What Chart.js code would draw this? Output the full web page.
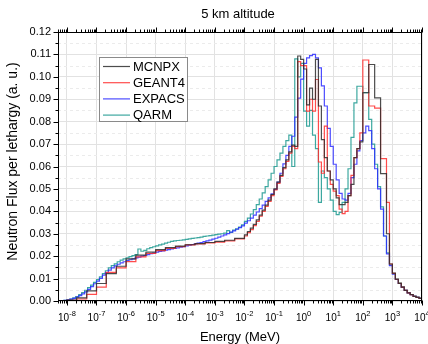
<!DOCTYPE html>
<html><head><meta charset="utf-8">
<script src="https://cdn.jsdelivr.net/npm/chart.js@4.4.1/dist/chart.umd.min.js"></script>
<style>html,body{margin:0;padding:0;background:#fff;}canvas{display:block;}</style>
</head><body>
<canvas id="c" width="428" height="344"></canvas>
<script>
const TITLE = '5 km altitude';
const X_TITLE = 'Energy (MeV)';
const Y_TITLE = 'Neutron Flux per lethargy (a. u.)';
const SERIES_NAMES = ['MCNPX', 'GEANT4', 'EXPACS', 'QARM'];
const X_MIN = 5e-9, X_MAX = 1e4;
const X_TICK_EXP = [-8, -7, -6, -5, -4, -3, -2, -1, 0, 1, 2, 3, 4];
const Y_TICKS = [0, 0.01, 0.02, 0.03, 0.04, 0.05, 0.06, 0.07, 0.08, 0.09, 0.10, 0.11, 0.12];
const Y_TICK_LABELS = ['0.00','0.01','0.02','0.03','0.04','0.05','0.06','0.07','0.08','0.09','0.10','0.11','0.12'];

// bin lower edges, log10(E / MeV)
const LOGE_COARSE_LOW = [-8.3,-8.0,-7.67,-7.33,-7.0,-6.67,-6.33,-6.0,-5.67,-5.33,-5.0,-4.67,-4.33,-4.0,-3.67,-3.33,-3.0,-2.67,-2.33];
const LOGE_FINE_LOW = [-8.3,-8.2,-8.1,-8.0,-7.9,-7.8,-7.7,-7.6,-7.5,-7.4,-7.3,-7.2,-7.1,-7.0,-6.9,-6.8,-6.7,-6.6,-6.5,-6.4,-6.3,-6.2,-6.1,-6.0,-5.9,-5.8,-5.7,-5.6,-5.5,-5.4,-5.3,-5.2,-5.1,-5.0,-4.9,-4.8,-4.7,-4.6,-4.5,-4.4,-4.3,-4.2,-4.1,-4.0,-3.9,-3.8,-3.7,-3.6,-3.5,-3.4,-3.3,-3.2,-3.1,-3.0,-2.9,-2.8,-2.7,-2.6,-2.5,-2.4,-2.3,-2.2,-2.1];
const LOGE_HIGH = [-2.0,-1.9,-1.8,-1.7,-1.6,-1.5,-1.4,-1.3,-1.2,-1.1,-1.0,-0.9,-0.8,-0.7,-0.6,-0.5,-0.4,-0.3,-0.2,-0.1,0.0,0.1,0.2,0.3,0.4,0.5,0.6,0.7,0.8,0.9,1.0,1.1,1.2,1.3,1.4,1.5,1.6,1.7,1.8,1.9,2.0,2.1,2.2,2.3,2.4,2.5,2.6,2.7,2.8,2.9,3.0,3.1,3.2,3.3,3.4,3.5,3.6,3.7,3.8,3.9];
const LOGE_END = 4.0;

const MCNPX_LOW = [0.0001,0.0004,0.0014,0.0045,0.0078,0.0122,0.0155,0.0188,0.0205,0.0218,0.0229,0.0238,0.0245,0.0251,0.0256,0.0261,0.0266,0.0271,0.0279];
const GEANT4_LOW = [0.0001,0.0003,0.0009,0.0030,0.0062,0.0128,0.0148,0.0176,0.0197,0.0212,0.0225,0.0235,0.0243,0.0250,0.0255,0.0259,0.0263,0.0268,0.0277];
const EXPACS_LOW = [0.0001,0.0002,0.0003,0.0005,0.0008,0.0012,0.0017,0.0024,0.0032,0.0041,
  0.0052,0.0064,0.0077,0.0089,0.0101,0.0115,0.0127,0.0138,0.0148,0.0157,
  0.0164,0.0170,0.0175,0.0180,0.0184,0.0188,0.0192,0.0196,0.0200,0.0203,
  0.0207,0.0211,0.0214,0.0218,0.0221,0.0224,0.0227,0.0229,0.0232,0.0235,
  0.0237,0.0240,0.0243,0.0246,0.0249,0.0252,0.0255,0.0258,0.0261,0.0265,
  0.0268,0.0272,0.0276,0.0280,0.0285,0.0290,0.0295,0.0301,0.0307,0.0313,
  0.0320,0.0327,0.0335];
const QARM_LOW = [0.0001,0.0002,0.0003,0.0005,0.0009,0.0014,0.0020,0.0028,0.0037,0.0048,
  0.0060,0.0071,0.0083,0.0095,0.0108,0.0122,0.0135,0.0148,0.0158,0.0166,
  0.0175,0.0182,0.0188,0.0193,0.0198,0.0202,0.0207,0.0232,0.0222,0.0226,
  0.0233,0.0238,0.0242,0.0246,0.0250,0.0254,0.0258,0.0262,0.0266,0.0268,
  0.0270,0.0271,0.0273,0.0275,0.0277,0.0279,0.0281,0.0283,0.0285,0.0288,
  0.0290,0.0292,0.0294,0.0296,0.0298,0.0300,0.0303,0.0314,0.0306,0.0316,
  0.0322,0.0330,0.0340];

const MCNPX_HIGH = [0.0295,0.0310,0.0325,0.0342,0.0362,0.0383,0.0405,0.0428,0.0450,0.0475,
  0.0500,0.0530,0.0560,0.0595,0.0630,0.0665,0.0695,0.0690,0.1093,0.1078,
  0.1035,0.0875,0.0950,0.0900,0.1078,0.0870,0.0720,0.0640,0.0580,0.0540,
  0.0500,0.0460,0.0430,0.0430,0.0440,0.0470,0.0520,0.0640,0.0680,0.0710,
  0.0929,0.0929,0.1055,0.1055,0.0906,0.0906,0.0568,0.0568,0.0300,0.0165,
  0.0124,0.0097,0.0079,0.0062,0.0047,0.0036,0.0028,0.0021,0.0016,0.0012];
const GEANT4_HIGH = [0.0290,0.0305,0.0318,0.0336,0.0355,0.0378,0.0400,0.0422,0.0444,0.0470,
  0.0496,0.0525,0.0556,0.0590,0.0623,0.0660,0.0690,0.0680,0.1068,0.1050,
  0.1050,0.0847,0.0900,0.0847,0.0988,0.0620,0.0570,0.0780,0.0580,0.0520,
  0.0490,0.0470,0.0410,0.0390,0.0400,0.0470,0.0560,0.0640,0.0680,0.0750,
  0.1075,0.1075,0.0870,0.0870,0.0860,0.0860,0.0635,0.0635,0.0440,0.0165,
  0.0123,0.0097,0.0079,0.0062,0.0047,0.0036,0.0028,0.0021,0.0016,0.0012];
const EXPACS_HIGH = [0.0347,0.0358,0.0370,0.0383,0.0397,0.0412,0.0428,0.0444,0.0460,0.0478,
  0.0498,0.0530,0.0570,0.0612,0.0650,0.0690,0.0735,0.0820,0.0905,0.0990,
  0.1060,0.1085,0.1095,0.1100,0.1085,0.1040,0.0960,0.0870,0.0770,0.0690,
  0.0610,0.0540,0.0480,0.0455,0.0450,0.0480,0.0550,0.0610,0.0670,0.0715,
  0.0750,0.0780,0.0760,0.0680,0.0590,0.0500,0.0410,0.0290,0.0210,0.0158,
  0.0120,0.0096,0.0078,0.0061,0.0047,0.0036,0.0028,0.0021,0.0016,0.0012];
const QARM_HIGH = [0.0355,0.0370,0.0388,0.0408,0.0430,0.0455,0.0482,0.0510,0.0540,0.0570,
  0.0600,0.0630,0.0660,0.0690,0.0715,0.0740,0.0600,0.1080,0.1000,0.1060,
  0.0847,0.0780,0.0850,0.0740,0.0680,0.0440,0.0580,0.0550,0.0500,0.0450,
  0.0400,0.0385,0.0395,0.0440,0.0500,0.0590,0.0730,0.0884,0.0958,0.0958,
  0.0930,0.0930,0.0810,0.0700,0.0610,0.0510,0.0420,0.0290,0.0215,0.0160,
  0.0122,0.0098,0.0080,0.0063,0.0048,0.0037,0.0029,0.0022,0.0017,0.0013];

const COLORS = ['rgba(45,45,45,0.85)', 'rgba(255,45,45,0.85)', 'rgba(45,45,255,0.85)', 'rgba(40,158,150,0.9)'];
const FONT = '"Liberation Sans", Arial, sans-serif';

function buildSeries(lowE, lowV, highV) {
  const pts = [];
  lowE.forEach((e, i) => pts.push({x: Math.pow(10, e), y: lowV[i]}));
  LOGE_HIGH.forEach((e, i) => pts.push({x: Math.pow(10, e), y: highV[i]}));
  pts.push({x: Math.pow(10, LOGE_END), y: highV[highV.length - 1]});
  return pts;
}
const seriesData = [
  buildSeries(LOGE_COARSE_LOW, MCNPX_LOW, MCNPX_HIGH),
  buildSeries(LOGE_COARSE_LOW, GEANT4_LOW, GEANT4_HIGH),
  buildSeries(LOGE_FINE_LOW, EXPACS_LOW, EXPACS_HIGH),
  buildSeries(LOGE_FINE_LOW, QARM_LOW, QARM_HIGH)
];

const decorPlugin = {
  id: 'decor',
  beforeDatasetsDraw(chart) {
    const {ctx, chartArea: a, scales: {y}} = chart;
    ctx.save();
    ctx.strokeStyle = '#ebebeb';
    ctx.lineWidth = 1;
    ctx.setLineDash([3, 3]);
    for (let i = 0; i < Y_TICKS.length - 1; i++) {
      const v = (Y_TICKS[i] + Y_TICKS[i + 1]) / 2;
      const py = Math.round(y.getPixelForValue(v)) + 0.5;
      ctx.beginPath(); ctx.moveTo(a.left, py); ctx.lineTo(a.right, py); ctx.stroke();
    }
    ctx.restore();
  },
  afterDraw(chart) {
    const {ctx, chartArea: a, scales: {x, y}} = chart;
    ctx.save();
    ctx.strokeStyle = '#000';
    ctx.lineWidth = 1;
    ctx.strokeRect(Math.round(a.left) + 0.5, Math.round(a.top) + 0.5, Math.round(a.right - a.left) - 1, Math.round(a.bottom - a.top) - 1);
    const L = Math.round(a.left) + 0.5, B = Math.round(a.bottom) - 0.5, T = Math.round(a.top) + 0.5;
    ctx.beginPath();
    for (let i = 0; i < Y_TICKS.length; i++) {
      const py = Math.round(y.getPixelForValue(Y_TICKS[i])) + 0.5;
      ctx.moveTo(L - 5, py); ctx.lineTo(L, py);
      if (i < Y_TICKS.length - 1) {
        const pm = Math.round(y.getPixelForValue((Y_TICKS[i] + Y_TICKS[i + 1]) / 2)) + 0.5;
        ctx.moveTo(L - 3, pm); ctx.lineTo(L, pm);
      }
    }
    for (let d = -9; d <= 4; d++) {
      for (let m = 1; m <= 9; m++) {
        const v = m * Math.pow(10, d);
        if (v < X_MIN * 0.999 || v > X_MAX * 1.001) continue;
        const px = Math.round(x.getPixelForValue(v)) + 0.5;
        const len = m === 1 ? 5 : 3;
        ctx.moveTo(px, B); ctx.lineTo(px, B + len);
        ctx.moveTo(px, T); ctx.lineTo(px, T - len);
      }
    }
    ctx.stroke();
    ctx.fillStyle = '#000';
    ctx.textBaseline = 'alphabetic';
    ctx.textAlign = 'left';
    X_TICK_EXP.forEach(e => {
      const px = x.getPixelForValue(Math.pow(10, e));
      ctx.font = '10px ' + FONT;
      const wb = ctx.measureText('10').width;
      ctx.font = '7.5px ' + FONT;
      const es = String(e);
      const we = ctx.measureText(es).width;
      const x0 = px - (wb + we) / 2;
      ctx.font = '10px ' + FONT;
      ctx.fillText('10', x0, 320.5);
      ctx.font = '7.5px ' + FONT;
      ctx.fillText(es, x0 + wb, 316);
    });
    ctx.textAlign = 'center';
    ctx.textBaseline = 'middle';
    ctx.font = '13px ' + FONT;
    ctx.fillText(TITLE, (a.left + a.right) / 2 - 2, 14);
    ctx.fillText(X_TITLE, (a.left + a.right) / 2, 337);
    ctx.save();
    ctx.translate(13, (a.top + a.bottom) / 2 - 5);
    ctx.rotate(-Math.PI / 2);
    ctx.font = '14px ' + FONT;
    ctx.fillText(Y_TITLE, 0, 0);
    ctx.restore();
    ctx.fillStyle = '#fff';
    ctx.fillRect(99, 58, 88, 64);
    ctx.strokeStyle = '#8a8a8a';
    ctx.strokeRect(99.5, 57.5, 88, 64);
    const rows = [66, 82.2, 98.4, 114.6];
    ctx.textAlign = 'left';
    ctx.font = '13px ' + FONT;
    SERIES_NAMES.forEach((n, i) => {
      ctx.strokeStyle = COLORS[i];
      ctx.lineWidth = 1.2;
      ctx.beginPath(); ctx.moveTo(103, rows[i] + 0.5); ctx.lineTo(130, rows[i] + 0.5); ctx.stroke();
      ctx.fillStyle = '#000';
      ctx.fillText(n, 133, rows[i] + 1);
    });
    ctx.restore();
  }
};

Chart.defaults.font.family = FONT;
Chart.defaults.color = '#000';

new Chart(document.getElementById('c'), {
  type: 'line',
  data: {
    datasets: SERIES_NAMES.map((n, i) => ({
      label: n,
      data: seriesData[i],
      borderColor: COLORS[i],
      borderWidth: 1.2,
      pointRadius: 0,
      stepped: true,
      fill: false,
      tension: 0
    }))
  },
  options: {
    responsive: false,
    animation: false,
    devicePixelRatio: 1,
    layout: {padding: {top: 32, right: 6, left: 0, bottom: 0}},
    plugins: {legend: {display: false}, title: {display: false}, tooltip: {enabled: false}},
    scales: {
      x: {
        type: 'logarithmic',
        min: X_MIN, max: X_MAX,
        afterBuildTicks: s => { s.ticks = X_TICK_EXP.map(e => ({value: Math.pow(10, e)})); },
        afterFit: s => { s.height = 43; },
        ticks: {display: false},
        grid: {color: '#e2e2e2', drawTicks: false},
        border: {display: false}
      },
      y: {
        type: 'linear',
        min: 0, max: 0.12,
        afterBuildTicks: s => { s.ticks = Y_TICKS.map(v => ({value: v})); },
        afterFit: s => { s.width = 58; },
        ticks: {
          font: {size: 11},
          padding: 7,
          callback: (v, i) => Y_TICK_LABELS[i]
        },
        grid: {color: '#e2e2e2', drawTicks: false},
        border: {display: false}
      }
    }
  },
  plugins: [decorPlugin]
});
</script>
</body></html>
